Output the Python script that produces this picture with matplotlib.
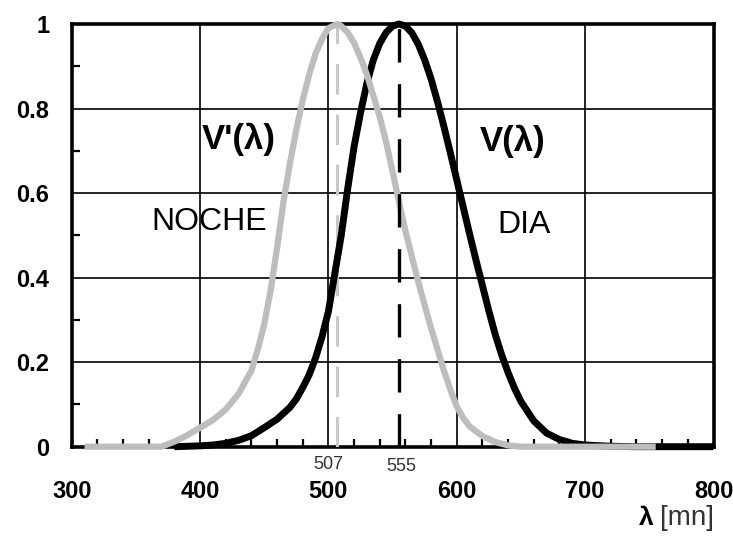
"""
Кривые относительной спектральной чувствительности глаза:
дневное V(λ) и ночное V'(λ) зрение
"""

import numpy as np  # Работа с массивами

from matplotlib import pyplot as plt, rcParams as rcP  # Графики
from matplotlib.ticker import MultipleLocator  # Деления осей

# Настройки графиков

rcP["figure.dpi"] = 100
rcP["savefig.dpi"] = 100

rcP["font.family"] = "sans-serif"
rcP["font.sans-serif"] = ["Liberation Sans", "DejaVu Sans"]

# Дневная кривая V(λ)
wl_dia = [380, 390, 400, 410, 420, 430, 440, 450, 460, 470, 475, 480, 485, 490, 495, 500, 505, 510, 515,
          520, 525, 530, 535, 540, 545, 550, 555, 560, 565, 570, 575, 580, 585, 590, 595, 600, 605, 610,
          615, 620, 625, 630, 635, 640, 645, 650, 660, 670, 680, 690, 700, 720, 740, 800]
v_dia = [0.0, 0.001, 0.002, 0.004, 0.008, 0.015, 0.026, 0.045, 0.065, 0.093, 0.113, 0.14, 0.17, 0.21,
         0.26, 0.32, 0.41, 0.50, 0.61, 0.71, 0.79, 0.86, 0.915, 0.954, 0.98, 0.995, 1.0, 0.995, 0.979,
         0.952, 0.915, 0.87, 0.816, 0.757, 0.695, 0.631, 0.567, 0.503, 0.441, 0.381, 0.321, 0.265, 0.217,
         0.175, 0.138, 0.107, 0.061, 0.032, 0.017, 0.008, 0.004, 0.001, 0.0, 0.0]

# Ночная кривая V'(λ)
wl_noche = [310, 370, 380, 390, 400, 410, 420, 430, 440, 445, 450, 455, 460, 465, 470, 475, 480, 485, 490,
            495, 500, 507, 510, 515, 520, 525, 530, 535, 540, 545, 550, 555, 560, 565, 570, 575, 580, 585,
            590, 595, 600, 605, 610, 620, 630, 640, 650, 755]
v_noche = [0.0, 0.0, 0.012, 0.027, 0.045, 0.063, 0.088, 0.125, 0.18, 0.23, 0.29, 0.37, 0.47, 0.58, 0.67,
           0.75, 0.82, 0.88, 0.93, 0.965, 0.99, 1.0, 0.995, 0.98, 0.955, 0.92, 0.88, 0.83, 0.78, 0.72,
           0.65, 0.58, 0.51, 0.45, 0.39, 0.335, 0.28, 0.23, 0.18, 0.135, 0.095, 0.068, 0.048, 0.025,
           0.011, 0.003, 0.0, 0.0]

# Максимумы кривых
peaks = [507, 555]

# Подписи делений
x_ticks = [300, 400, 500, 600, 700, 800]
y_ticks = [0, 0.2, 0.4, 0.6, 0.8, 1]
y_labels = ["0", "0.2", "0.4", "0.6", "0.8", "1"]

fig = plt.figure(figsize=(7.33, 5.36))
ax = fig.add_axes([0.0978, 0.1666, 0.8756, 0.7887])

# Кривые (ночная поверх дневной)
ax.plot(wl_dia, v_dia, color="black", lw=5, clip_on=False, zorder=4, solid_capstyle="butt")
ax.plot(wl_noche, v_noche, color="#bdbdbd", lw=4.5, clip_on=False, zorder=5, solid_capstyle="butt")

# Вертикальные штриховые линии в максимумах
ax.plot([peaks[0], peaks[0]], [0, 1], color="#c8c8c8", lw=2.2, dashes=(10, 6.5), zorder=3)
ax.plot([peaks[1], peaks[1]], [0, 1], color="black", lw=2.4, dashes=(10, 6.5), zorder=6)

# Пределы осей
ax.set_xlim(300, 800)
ax.set_ylim(0, 1)

# Основные и дополнительные деления
ax.set_xticks(x_ticks)
ax.set_yticks(y_ticks)
ax.set_yticklabels(y_labels)
ax.xaxis.set_minor_locator(MultipleLocator(20))
ax.yaxis.set_minor_locator(MultipleLocator(0.1))

ax.tick_params(which="major", length=0, pad=24, labelsize=17)
ax.tick_params(axis="y", which="major", pad=16)
ax.tick_params(which="minor", direction="in", length=5.5, width=1.6, color="black")
for lab in ax.get_xticklabels() + ax.get_yticklabels():
    lab.set_fontweight("bold")

# Сетка
ax.grid(True, which="major", color="black", lw=1.2)
ax.set_axisbelow(True)

# Рамка
for sp in ax.spines.values():
    sp.set_linewidth(2.6)
    sp.set_zorder(2)

# Подписи кривых
ax.text(430.5, 0.726, "V'(λ)", fontsize=25, fontweight="bold", ha="center", va="center")
ax.text(407.5, 0.532, "NOCHE", fontsize=23, ha="center", va="center")
ax.text(643.5, 0.722, "V(λ)", fontsize=25, fontweight="bold", ha="center", va="center")
ax.text(652.5, 0.525, "DIA", fontsize=23, ha="center", va="center")

# Значения максимумов
ax.text(500, -0.043, "507", fontsize=13, ha="center", va="center", color="#333333")
ax.text(556.5, -0.046, "555", fontsize=13, ha="center", va="center", color="#333333")

# Подпись оси абсцисс
fig.text(0.881, 0.034, "λ", fontsize=19, fontweight="bold", ha="center", va="center")
fig.text(0.937, 0.034, "[mn]", fontsize=20, ha="center", va="center", color="#333333")

# Сохранение графика
fig.savefig("out.png")
